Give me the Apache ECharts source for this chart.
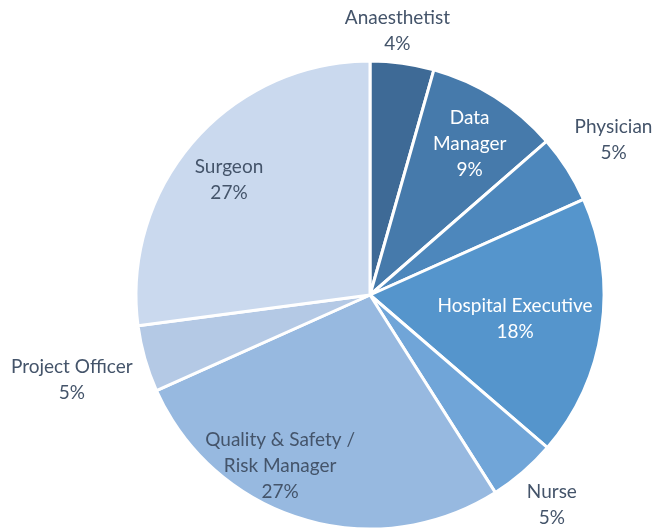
<!DOCTYPE html>
<html>
<head>
<meta charset="utf-8">
<script src="https://cdn.jsdelivr.net/npm/echarts@6/dist/echarts.min.js"></script>
<style>
  html, body { margin: 0; padding: 0; background: #fff; }
  #roles { width: 654px; height: 528px; }
</style>
</head>
<body>
<div id="roles"></div>
<script>
// respondent roles, clockwise from 12 o'clock
var roles = ['Anaesthetist', 'Data\nManager', 'Physician', 'Hospital Executive', 'Nurse',
             'Quality & Safety /\nRisk Manager', 'Project Officer', 'Surgeon'];
var shares = [4.4, 9.2, 4.7, 18.0, 4.7, 27.3, 4.6, 27.1];

var sliceColors = ['#3e6a96', '#467aab', '#4d87bc', '#5595cc', '#70a5d8', '#97b9e0', '#b4c9e5', '#cad9ee'];
var lightText = [false, true, false, true, false, false, false, false];
// label distance from centre (px) and small angle nudge (deg)
var labelRadius = [266, 181, 289, 147, 278, 193, 310, 182];
var labelNudge = [-2, 1, 0, 1, 0, 11, 0, -2];

var cx = 370, cy = 295, R = 234;

var chart = echarts.init(document.getElementById('roles'));

var data = [];
for (var i = 0; i < roles.length; i++) {
  data.push({
    name: roles[i],
    value: shares[i],
    itemStyle: { color: sliceColors[i] },
    label: { color: lightText[i] ? '#ffffff' : '#44546a' }
  });
}

var option = {
  animation: false,
  series: [{
    type: 'pie',
    center: [cx, cy],
    radius: [0, R],
    startAngle: 90,
    clockwise: true,
    avoidLabelOverlap: false,
    itemStyle: { borderColor: '#ffffff', borderWidth: 3 },
    label: {
      show: true,
      position: 'inside',
      fontFamily: 'Lato',
      fontSize: 19,
      lineHeight: 26,
      align: 'center',
      formatter: function (p) { return p.name + '\n' + Math.round(p.value) + '%'; }
    },
    labelLine: { show: false },
    labelLayout: function (p) {
      var r = p.labelRect;
      var lx = r.x + r.width / 2, ly = r.y + r.height / 2;
      var ang = Math.atan2(lx - cx, cy - ly) + labelNudge[p.dataIndex] * Math.PI / 180;
      var d = labelRadius[p.dataIndex];
      return { x: cx + d * Math.sin(ang), y: cy - d * Math.cos(ang) };
    },
    data: data
  }]
};

chart.setOption(option);
</script>
</body>
</html>
